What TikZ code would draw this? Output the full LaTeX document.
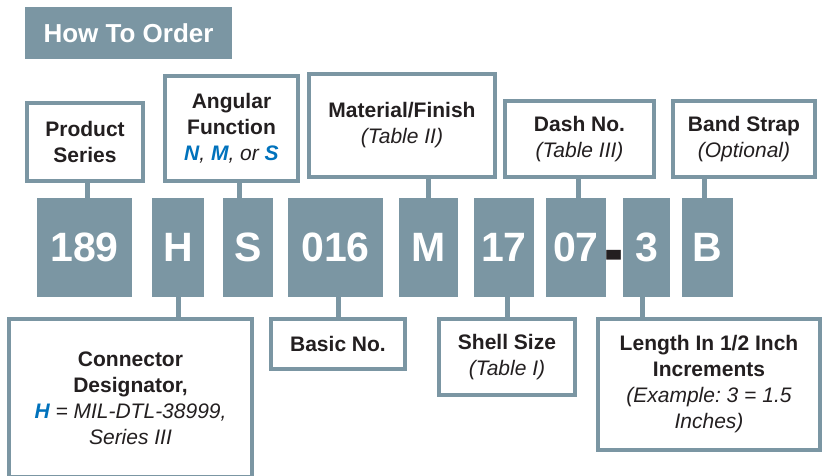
\documentclass[tikz,border=0pt]{standalone}
\usepackage{fontspec}
\setmainfont{Liberation Sans}
\usepackage{graphicx}
\definecolor{mc}{HTML}{7B96A3}
\definecolor{tc}{HTML}{231F20}
\definecolor{blu}{HTML}{0072BC}
\frenchspacing
\begin{document}
\begin{tikzpicture}[x=1pt,y=-1pt,
  lbl/.style={draw=mc, line width=4pt, fill=white, align=center, text=tc,
    font=\fontsize{21}{26}\selectfont, inner sep=0pt},
  code/.style={fill=mc, text=white, font=\fontsize{41}{41}\selectfont\bfseries,
    inner sep=0pt, minimum height=99pt},
  stem/.style={draw=mc, line width=5pt},
  ttl/.style={fill=mc, text=white, font=\fontsize{26}{30}\selectfont\bfseries, inner sep=0pt}]
\useasboundingbox (0,0) rectangle (823,475);
\clip (0,0) rectangle (823,475);

% title
\node[ttl, minimum width=207pt, minimum height=52pt] (title) at (128.5,33) {How To Order};

% top labels
\node[lbl, minimum width=116pt, minimum height=78pt] (ps) at (85,142)
  {\textbf{Product}\\\textbf{Series}};
\node[lbl, minimum width=133pt, minimum height=105pt] (af) at (231.5,128.5)
  {\textbf{Angular}\\\textbf{Function}\\\textit{\textbf{\color{blu}N}, \textbf{\color{blu}M}, or \textbf{\color{blu}S}}};
\node[lbl, minimum width=186pt, minimum height=103pt] (mf) at (402,125.5)
  {\textbf{Material/Finish}\\\textit{(Table II)}};
\node[lbl, minimum width=149pt, minimum height=76pt] (dn) at (579.5,139)
  {\textbf{Dash No.}\\\textit{(Table III)}};
\node[lbl, minimum width=142pt, minimum height=76pt] (bs) at (744,139)
  {\textbf{Band Strap}\\\textit{(Optional)}};

% code boxes
\node[code, minimum width=95pt] (c189) at (84.5,247.5) {189};
\node[code, minimum width=52pt] (cH) at (178,247.5) {H};
\node[code, minimum width=50pt] (cS) at (248,247.5) {S};
\node[code, minimum width=95pt] (c016) at (335.5,247.5) {016};
\node[code, minimum width=59pt] (cM) at (428.5,247.5) {M};
\node[code, minimum width=60pt] (c17) at (504,247.5) {17};
\node[code, minimum width=60pt] (c07) at (576,247.5) {07};
\node[code, minimum width=47pt] (c3) at (646.5,247.5) {3};
\node[code, minimum width=51pt] (cB) at (707.5,247.5) {B};
\node[text=tc, font=\fontsize{41}{41}\selectfont\bfseries, inner sep=0pt] (dash) at (614,263.5) {\scalebox{1.4}[2.0]{-}};

% bottom labels
\node[lbl, minimum width=243pt, minimum height=158pt] (cd) at (130.5,398)
  {\textbf{Connector}\\\textbf{Designator,}\\\textit{\textbf{\color{blu}H} = MIL-DTL-38999,}\\\textit{Series III}};
\node[lbl, minimum width=134pt, minimum height=50pt] (bn) at (338,344)
  {\textbf{Basic No.}};
\node[lbl, minimum width=136pt, minimum height=76pt] (ss) at (507,357)
  {\textbf{Shell Size}\\\textit{(Table I)}};
\node[lbl, minimum width=222pt, minimum height=131pt] (lg) at (709,384.5)
  {\textbf{Length In 1/2 Inch}\\\textbf{Increments}\\\textit{(Example: 3 = 1.5}\\\textit{Inches)}};

% stems
\draw[stem] ([xshift=3pt]c189.north) -- ([xshift=3pt]c189.north |- ps.south);
\draw[stem] ([xshift=-8.5pt]cS.north) -- ([xshift=-8.5pt]cS.north |- af.south);
\draw[stem] (cM.north) -- (cM.north |- mf.south);
\draw[stem] ([xshift=-1pt]dn.south) -- ([xshift=-1pt]dn.south |- c07.north);
\draw[stem] ([xshift=-3pt]cB.north) -- ([xshift=-3pt]cB.north |- bs.south);
\draw[stem] (cH.south) -- (cH.south |- cd.north);
\draw[stem] (bn.north) -- (bn.north |- c016.south);
\draw[stem] (ss.north) -- (ss.north |- c17.south);
\draw[stem] ([xshift=-4pt]c3.south) -- ([xshift=-4pt]c3.south |- lg.north);
\end{tikzpicture}
\end{document}
